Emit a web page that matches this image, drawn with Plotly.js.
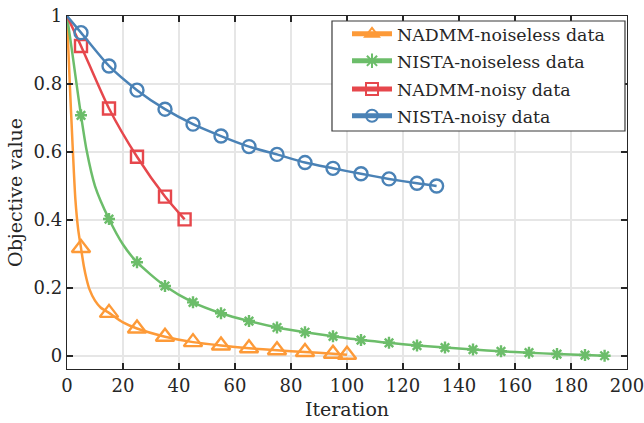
<!DOCTYPE html>
<html>
<head>
<meta charset="utf-8">
<script src="https://cdn.plot.ly/plotly-3.0.1.min.js"></script>
<style>
  html, body { margin: 0; padding: 0; background: #ffffff; }
  #chart { width: 644px; height: 423px; }
</style>
</head>
<body>
<div id="chart"></div>
<script>
// Objective value per iteration for each solver / data setting
const nadmmCleanIter = [0, 1, 2, 3, 4, 5, 6, 7, 8, 10, 12, 15, 20, 25, 35, 45, 55, 65, 75, 85, 95, 100];
const nadmmCleanObj  = [1.0, 0.80, 0.62, 0.46, 0.372, 0.318, 0.265, 0.226, 0.197, 0.163, 0.143, 0.127, 0.099, 0.081, 0.057, 0.041, 0.031, 0.023, 0.017, 0.012, 0.007, 0.004];

const nistaCleanIter = [0, 2, 4, 5, 7, 10, 15, 20, 25, 35, 45, 55, 65, 75, 85, 95, 105, 115, 125, 135, 145, 155, 165, 175, 185, 192];
const nistaCleanObj  = [1.0, 0.885, 0.765, 0.708, 0.605, 0.50, 0.403, 0.328, 0.276, 0.206, 0.158, 0.126, 0.103, 0.084, 0.070, 0.058, 0.047, 0.039, 0.031, 0.025, 0.019, 0.014, 0.010, 0.006, 0.003, 0.001];

const nadmmNoisyIter = [0, 5, 15, 25, 35, 42];
const nadmmNoisyObj  = [1.0, 0.912, 0.728, 0.586, 0.469, 0.402];

const nistaNoisyIter = [0, 5, 15, 25, 35, 45, 55, 65, 75, 85, 95, 105, 115, 125, 132];
const nistaNoisyObj  = [1.0, 0.951, 0.853, 0.782, 0.726, 0.682, 0.647, 0.616, 0.593, 0.569, 0.552, 0.536, 0.521, 0.508, 0.500];

const seriesNames = ['NADMM-noiseless data', 'NISTA-noiseless data', 'NADMM-noisy data', 'NISTA-noisy data'];
const xTicks = [0, 20, 40, 60, 80, 100, 120, 140, 160, 180, 200];
const yTicks = [0, 0.2, 0.4, 0.6, 0.8, 1];

const FONT = 'DejaVu Serif';
const INK = '#262626';

// markers every 10 iterations (5, 15, 25, ...) plus the final iterate
function markerSizes(iters, size) {
  return iters.map((it, i) => ((it % 10 === 5) || i === iters.length - 1) ? size : 0);
}

function series(iters, vals, name, color, symbol, size, legendId) {
  return {
    x: iters, y: vals, name: name, legend: legendId,
    type: 'scatter', mode: 'lines+markers',
    line: { color: color, width: 2.5, shape: 'spline', smoothing: 0.7 },
    marker: {
      symbol: symbol, color: color, opacity: 1,
      size: markerSizes(iters, size),
      line: { color: color, width: 2.4 }
    },
    hoverinfo: 'x+y'
  };
}

const traces = [
  series(nadmmCleanIter, nadmmCleanObj, seriesNames[0], '#FD9A38', 'triangle-up-open', 16, 'legend'),
  series(nistaCleanIter, nistaCleanObj, seriesNames[1], '#6CBD6A', 'asterisk-open', 10, 'legend2'),
  series(nadmmNoisyIter, nadmmNoisyObj, seriesNames[2], '#E6474C', 'square-open', 12, 'legend3'),
  series(nistaNoisyIter, nistaNoisyObj, seriesNames[3], '#4A82B6', 'circle-open', 13, 'legend4')
];

const axisCommon = {
  showline: true, linecolor: INK, linewidth: 1.2, mirror: 'allticks',
  ticks: 'inside', ticklen: 6, tickwidth: 1.2, tickcolor: INK,
  showgrid: true, gridcolor: '#e6e6e6', gridwidth: 1.3,
  zeroline: false, ticklabeloverflow: 'allow',
  tickfont: { family: FONT, size: 18, color: INK }
};

// one legend box per row so the rows sit at a tight, fixed pitch
function legendRow(yPaper) {
  return {
    x: 0.50, y: yPaper, xanchor: 'left', yanchor: 'middle',
    bgcolor: 'rgba(0,0,0,0)', borderwidth: 0,
    itemsizing: 'constant', itemwidth: 40,
    font: { family: FONT, size: 17.4, color: INK }
  };
}

const layout = {
  width: 644, height: 423,
  margin: { l: 67, r: 17, t: 16, b: 54, autoexpand: false },
  paper_bgcolor: '#ffffff', plot_bgcolor: '#ffffff',
  showlegend: true,
  xaxis: Object.assign({}, axisCommon, {
    range: [0, 200], tickvals: xTicks, ticktext: xTicks.map(String),
    title: { text: 'Iteration', font: { family: FONT, size: 19, color: INK }, standoff: 8 }
  }),
  yaxis: Object.assign({}, axisCommon, {
    range: [-0.038, 1], tickvals: yTicks, ticktext: yTicks.map(String),
    title: { text: 'Objective value', font: { family: FONT, size: 19, color: INK }, standoff: 6 }
  }),
  legend: legendRow(0.949),
  legend2: legendRow(0.8725),
  legend3: legendRow(0.793),
  legend4: legendRow(0.7167),
  shapes: [{
    type: 'rect', xref: 'paper', yref: 'paper', layer: 'above',
    x0: 0.4732, x1: 0.9964, y0: 0.6742, y1: 0.9858,
    fillcolor: '#ffffff', line: { color: '#3a3a3a', width: 1.2 }
  }]
};

Plotly.newPlot('chart', traces, layout, { staticPlot: true, displayModeBar: false });
</script>
</body>
</html>
